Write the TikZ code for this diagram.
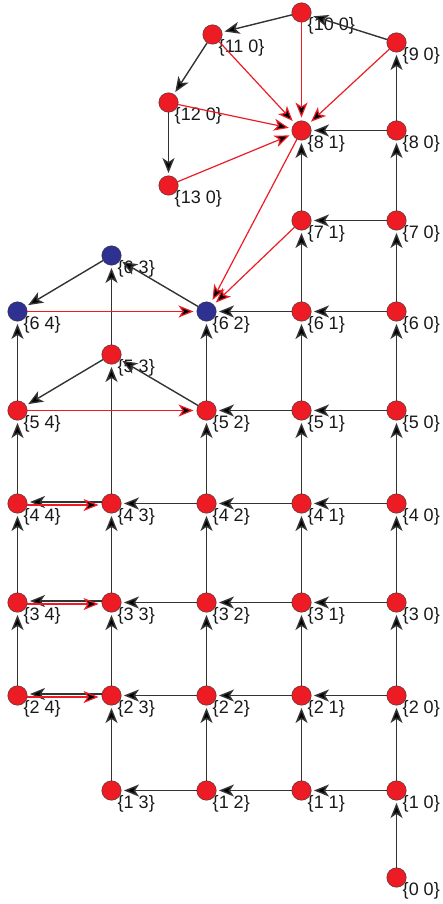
\documentclass[tikz,border=0pt]{standalone}
\usepackage{fontspec}
\setmainfont{Liberation Sans}
\usetikzlibrary{arrows.meta}
\definecolor{dotred}{HTML}{ED1C24}
\definecolor{dotblue}{HTML}{2E3192}
\definecolor{linegray}{HTML}{333333}
\tikzset{
  dot/.style={circle, draw=black!80, thin, fill=dotred, minimum size=19.5pt, inner sep=0pt},
  bluedot/.style={dot, fill=dotblue},
  lab/.style={anchor=north west, inner sep=0pt, xshift=-1pt, yshift=2pt, text=black!90, font=\fontsize{18}{18}\selectfont},
  blk/.style={draw=linegray, line width=1.4pt, shorten >=2.5pt, -{Stealth[length=15pt,width=12pt,inset=4pt,fill=black]}},
  redarr/.style={draw=dotred, line width=1.2pt, shorten >=3pt, -{Stealth[length=15pt,width=12pt,inset=4pt]}}
}
\begin{document}
\begin{tikzpicture}[x=1pt, y=-1pt]
    % Frame
    \useasboundingbox (0,0) rectangle (443,904);
    % Column 0
    \node[dot, label={[lab]-45:\{0 0\}}] (n0-0) at (396.5,877.5) {};
    \node[dot, label={[lab]-45:\{1 0\}}] (n1-0) at (396.5,790.5) {};
    \node[dot, label={[lab]-45:\{2 0\}}] (n2-0) at (396.5,695.5) {};
    \node[dot, label={[lab]-45:\{3 0\}}] (n3-0) at (396.5,602.5) {};
    \node[dot, label={[lab]-45:\{4 0\}}] (n4-0) at (396.5,503.5) {};
    \node[dot, label={[lab]-45:\{5 0\}}] (n5-0) at (396.5,410.5) {};
    \node[dot, label={[lab]-45:\{6 0\}}] (n6-0) at (396.5,311.5) {};
    \node[dot, label={[lab]-45:\{7 0\}}] (n7-0) at (396.5,220.5) {};
    \node[dot, label={[lab]-45:\{8 0\}}] (n8-0) at (396.5,130.5) {};
    \node[dot, label={[lab]-45:\{9 0\}}] (n9-0) at (396.5,42.5) {};
    \node[dot, label={[lab]-45:\{10 0\}}] (n10-0) at (301.5,12.5) {};
    \node[dot, label={[lab]-45:\{11 0\}}] (n11-0) at (212.5,34.5) {};
    \node[dot, label={[lab]-45:\{12 0\}}] (n12-0) at (168.5,102.5) {};
    \node[dot, label={[lab]-45:\{13 0\}}] (n13-0) at (168.5,185.5) {};
    % Column 1
    \node[dot, label={[lab]-45:\{1 1\}}] (n1-1) at (301.5,790.5) {};
    \node[dot, label={[lab]-45:\{2 1\}}] (n2-1) at (301.5,695.5) {};
    \node[dot, label={[lab]-45:\{3 1\}}] (n3-1) at (301.5,602.5) {};
    \node[dot, label={[lab]-45:\{4 1\}}] (n4-1) at (301.5,503.5) {};
    \node[dot, label={[lab]-45:\{5 1\}}] (n5-1) at (301.5,410.5) {};
    \node[dot, label={[lab]-45:\{6 1\}}] (n6-1) at (301.5,311.5) {};
    \node[dot, label={[lab]-45:\{7 1\}}] (n7-1) at (301.5,220.5) {};
    \node[dot, label={[lab]-45:\{8 1\}}] (n8-1) at (301.5,130.5) {};
    % Column 2
    \node[dot, label={[lab]-45:\{1 2\}}] (n1-2) at (206.5,790.5) {};
    \node[dot, label={[lab]-45:\{2 2\}}] (n2-2) at (206.5,695.5) {};
    \node[dot, label={[lab]-45:\{3 2\}}] (n3-2) at (206.5,602.5) {};
    \node[dot, label={[lab]-45:\{4 2\}}] (n4-2) at (206.5,503.5) {};
    \node[dot, label={[lab]-45:\{5 2\}}] (n5-2) at (206.5,410.5) {};
    \node[bluedot, label={[lab]-45:\{6 2\}}] (n6-2) at (206.5,311.5) {};
    % Column 3
    \node[dot, label={[lab]-45:\{1 3\}}] (n1-3) at (111.5,790.5) {};
    \node[dot, label={[lab]-45:\{2 3\}}] (n2-3) at (111.5,695.5) {};
    \node[dot, label={[lab]-45:\{3 3\}}] (n3-3) at (111.5,602.5) {};
    \node[dot, label={[lab]-45:\{4 3\}}] (n4-3) at (111.5,503.5) {};
    \node[dot, label={[lab]-45:\{5 3\}}] (n5-3) at (111.5,354.5) {};
    \node[bluedot, label={[lab]-45:\{6 3\}}] (n6-3) at (111.5,255.5) {};
    % Column 4
    \node[dot, label={[lab]-45:\{2 4\}}] (n2-4) at (17.5,695.5) {};
    \node[dot, label={[lab]-45:\{3 4\}}] (n3-4) at (17.5,602.5) {};
    \node[dot, label={[lab]-45:\{4 4\}}] (n4-4) at (17.5,503.5) {};
    \node[dot, label={[lab]-45:\{5 4\}}] (n5-4) at (17.5,410.5) {};
    \node[bluedot, label={[lab]-45:\{6 4\}}] (n6-4) at (17.5,311.5) {};
    % Upward edges
    \path[blk] (n0-0) edge (n1-0) (n1-0) edge (n2-0) (n2-0) edge (n3-0) (n3-0) edge (n4-0)
      (n4-0) edge (n5-0) (n5-0) edge (n6-0) (n6-0) edge (n7-0) (n7-0) edge (n8-0) (n8-0) edge (n9-0);
    \path[blk] (n1-1) edge (n2-1) (n2-1) edge (n3-1) (n3-1) edge (n4-1) (n4-1) edge (n5-1)
      (n5-1) edge (n6-1) (n6-1) edge (n7-1) (n7-1) edge (n8-1);
    \path[blk] (n1-2) edge (n2-2) (n2-2) edge (n3-2) (n3-2) edge (n4-2) (n4-2) edge (n5-2) (n5-2) edge (n6-2);
    \path[blk] (n1-3) edge (n2-3) (n2-3) edge (n3-3) (n3-3) edge (n4-3) (n4-3) edge (n5-3) (n5-3) edge (n6-3);
    \path[blk] (n2-4) edge (n3-4) (n3-4) edge (n4-4) (n4-4) edge (n5-4) (n5-4) edge (n6-4);
    % Leftward edges
    \path[blk] (n1-0) edge (n1-1) (n2-0) edge (n2-1) (n3-0) edge (n3-1) (n4-0) edge (n4-1)
      (n5-0) edge (n5-1) (n6-0) edge (n6-1) (n7-0) edge (n7-1) (n8-0) edge (n8-1);
    \path[blk] (n1-1) edge (n1-2) (n2-1) edge (n2-2) (n3-1) edge (n3-2) (n4-1) edge (n4-2)
      (n5-1) edge (n5-2) (n6-1) edge (n6-2);
    \path[blk] (n1-2) edge (n1-3) (n2-2) edge (n2-3) (n3-2) edge (n3-3) (n4-2) edge (n4-3)
      (n5-2) edge (n5-3) (n6-2) edge (n6-3);
    \path[blk] (n5-3) edge (n5-4) (n6-3) edge (n6-4);
    \path[blk, transform canvas={yshift=1.5pt}] (n2-3) edge (n2-4) (n3-3) edge (n3-4) (n4-3) edge (n4-4);
    % Top loop
    \path[blk] (n9-0) edge (n10-0) (n10-0) edge (n11-0) (n11-0) edge (n12-0) (n12-0) edge (n13-0);
    % Red edges
    \path[redarr, transform canvas={yshift=-1.5pt}] (n2-4) edge (n2-3) (n3-4) edge (n3-3) (n4-4) edge (n4-3);
    \path[redarr] (n5-4) edge (n5-2) (n6-4) edge (n6-2);
    \path[redarr] (n10-0) edge (n8-1) (n11-0) edge (n8-1) (n9-0) edge (n8-1)
      (n12-0) edge (n8-1) (n13-0) edge (n8-1);
    \path[redarr] (n8-1) edge (n6-2) (n7-1) edge (n6-2);
\end{tikzpicture}
\end{document}
